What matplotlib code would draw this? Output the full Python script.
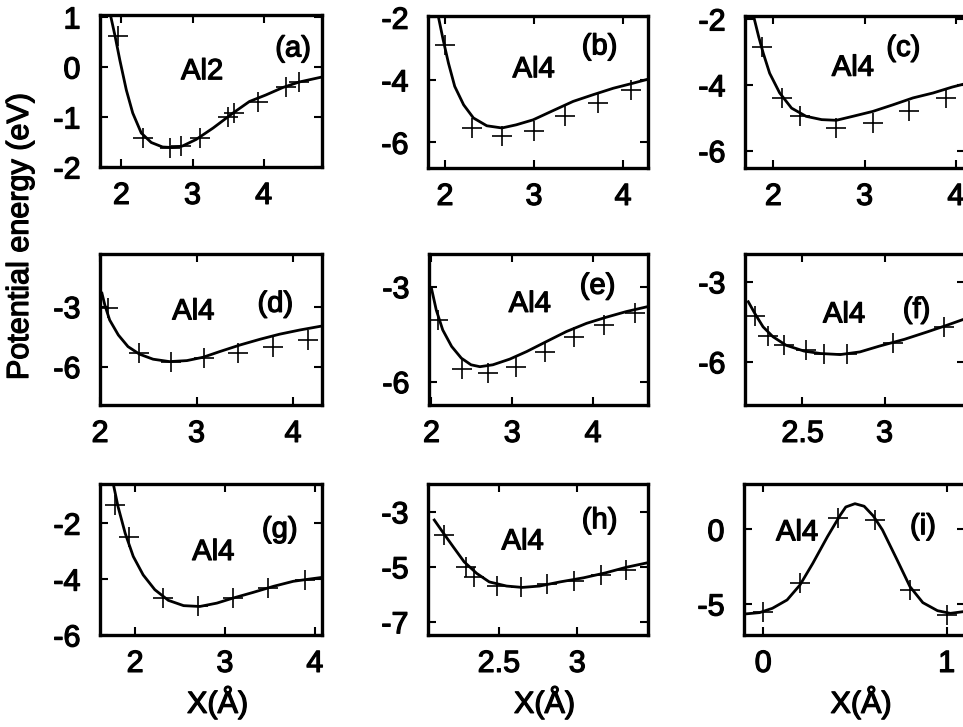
import matplotlib
matplotlib.use('Agg')
from matplotlib import pyplot as plt
from matplotlib import patheffects

plt.rcParams['font.family'] = ['Liberation Sans', 'DejaVu Sans']
plt.rcParams['axes.unicode_minus'] = False

# ---- data ----
# (a) Al2
a_x = [1.95, 2.3, 2.69, 2.84, 3.1, 3.5, 3.59, 3.92, 4.31, 4.5]
a_y = [0.63, -1.41, -1.61, -1.58, -1.41, -0.99, -0.92, -0.69, -0.39, -0.3]
a_fx = [1.85, 1.91, 1.98, 2.07, 2.16, 2.28, 2.42, 2.58, 2.72, 2.86, 3.05, 3.29, 3.57, 3.8, 4.03, 4.27, 4.5, 4.82]
a_fy = [1.02, 0.63, 0.13, -0.46, -0.92, -1.32, -1.51, -1.6, -1.61, -1.58, -1.45, -1.22, -0.92, -0.69, -0.56, -0.41, -0.3, -0.2]

# (b) Al4
b_x = [2.0, 2.3, 2.64, 3.0, 3.35, 3.72, 4.09]
b_y = [-2.88, -5.54, -5.79, -5.65, -5.17, -4.74, -4.32]
b_fx = [1.93, 1.98, 2.04, 2.11, 2.21, 2.32, 2.47, 2.64, 2.8, 2.99, 3.21, 3.44, 3.66, 3.89, 4.11, 4.28]
b_fy = [-2.03, -2.72, -3.47, -4.21, -4.8, -5.22, -5.47, -5.54, -5.44, -5.28, -4.99, -4.69, -4.48, -4.27, -4.11, -3.98]

# (c) Al4
c_x = [1.88, 2.09, 2.29, 2.69, 3.09, 3.49, 3.89]
c_y = [-2.84, -4.4, -4.96, -5.31, -5.16, -4.81, -4.4]
c_fx = [1.79, 1.84, 1.89, 1.96, 2.07, 2.2, 2.36, 2.53, 2.69, 2.87, 3.09, 3.31, 3.53, 3.75, 3.96, 4.1]
c_fy = [-1.98, -2.54, -3.04, -3.65, -4.25, -4.71, -4.96, -5.06, -5.08, -4.96, -4.81, -4.61, -4.4, -4.25, -4.07, -3.97]

# (d) Al4
d_x = [2.08, 2.4, 2.74, 3.08, 3.43, 3.79, 4.16]
d_y = [-3.08, -5.33, -5.75, -5.58, -5.33, -5.0, -4.67]
d_fx = [2.02, 2.05, 2.1, 2.19, 2.29, 2.41, 2.55, 2.72, 2.9, 3.07, 3.24, 3.45, 3.66, 3.86, 4.07, 4.3]
d_fy = [-2.33, -2.92, -3.67, -4.42, -5.0, -5.38, -5.63, -5.75, -5.7, -5.53, -5.25, -4.92, -4.63, -4.38, -4.17, -3.97]

# (e) Al4
e_x = [2.08, 2.38, 2.7, 3.05, 3.4, 3.77, 4.14, 4.52]
e_y = [-4.05, -5.61, -5.74, -5.53, -5.05, -4.58, -4.21, -3.84]
e_fx = [2.0, 2.06, 2.14, 2.25, 2.37, 2.49, 2.6, 2.76, 2.97, 3.18, 3.42, 3.67, 3.92, 4.16, 4.41, 4.68]
e_fy = [-3.05, -3.74, -4.37, -4.89, -5.26, -5.47, -5.53, -5.47, -5.29, -5.05, -4.74, -4.42, -4.16, -3.97, -3.79, -3.63]

# (f) Al4
f_x = [2.21, 2.29, 2.39, 2.52, 2.63, 2.77, 3.05, 3.36]
f_y = [-4.29, -5.03, -5.38, -5.56, -5.69, -5.69, -5.31, -4.71]
f_fx = [2.17, 2.21, 2.26, 2.32, 2.4, 2.51, 2.61, 2.73, 2.85, 2.97, 3.12, 3.26, 3.38, 3.49]
f_fy = [-3.75, -4.19, -4.69, -5.06, -5.38, -5.6, -5.69, -5.73, -5.63, -5.41, -5.16, -4.88, -4.63, -4.39]

# (g) Al4
g_x = [1.78, 1.93, 2.31, 2.7, 3.09, 3.48, 3.89]
g_y = [-1.35, -2.48, -4.68, -4.98, -4.68, -4.32, -4.02]
g_fx = [1.76, 1.81, 1.89, 1.98, 2.09, 2.22, 2.37, 2.54, 2.72, 2.91, 3.09, 3.31, 3.54, 3.76, 3.94, 4.08]
g_fy = [-0.63, -1.4, -2.36, -3.19, -3.85, -4.38, -4.76, -4.95, -4.98, -4.86, -4.68, -4.48, -4.26, -4.08, -4.0, -3.94]

# (h) Al4
h_x = [2.15, 2.29, 2.34, 2.49, 2.64, 2.81, 2.98, 3.15, 3.31]
h_y = [-3.85, -5.02, -5.36, -5.7, -5.73, -5.64, -5.51, -5.3, -5.12]
h_fx = [2.09, 2.15, 2.21, 2.28, 2.36, 2.44, 2.55, 2.65, 2.76, 2.89, 3.04, 3.18, 3.31, 3.45]
h_fy = [-3.3, -3.79, -4.27, -4.82, -5.24, -5.55, -5.7, -5.75, -5.7, -5.55, -5.4, -5.22, -5.02, -4.85]

# (i) Al4
i_x = [0.0, 0.2, 0.41, 0.61, 0.8, 1.0]
i_y = [-5.51, -3.62, 0.74, 0.63, -4.06, -5.74]
i_fx = [-0.1, -0.02, 0.05, 0.13, 0.2, 0.27, 0.35, 0.42, 0.45, 0.5, 0.55, 0.6, 0.65, 0.73, 0.8, 0.87, 0.95, 1.02, 1.1]
i_fy = [-5.67, -5.58, -5.29, -4.73, -3.73, -2.28, -0.49, 0.96, 1.5, 1.72, 1.55, 0.9, -0.04, -2.05, -3.84, -4.91, -5.45, -5.63, -5.5]

names = ['Al2', 'Al4', 'Al4', 'Al4', 'Al4', 'Al4', 'Al4', 'Al4', 'Al4']
tags = ['(a)', '(b)', '(c)', '(d)', '(e)', '(f)', '(g)', '(h)', '(i)']
xticks = [[2, 3, 4], [2, 3, 4], [2, 3, 4], [2, 3, 4], [2, 3, 4], [2.5, 3],
          [2, 3, 4], [2.5, 3], [0, 1]]
yticks = [[-2, -1, 0, 1], [-6, -4, -2], [-6, -4, -2], [-6, -3], [-6, -3], [-6, -3],
          [-6, -4, -2], [-7, -5, -3], [-5, 0]]
xlims = [(1.7, 4.82), (1.81, 4.28), (1.69, 4.1), (2.0, 4.3), (1.97, 4.68), (2.15, 3.49),
         (1.61, 4.08), (2.05, 3.45), (-0.105, 1.1)]
ylims = [(-2, 1.04), (-6.82, -1.96), (-6.53, -1.91), (-7.92, -0.37), (-6.74, -1.97),
         (-7.62, -1.96), (-6, -0.6), (-7.48, -1.99), (-7.08, 3.04)]

pts = [(a_x, a_y), (b_x, b_y), (c_x, c_y), (d_x, d_y), (e_x, e_y), (f_x, f_y),
       (g_x, g_y), (h_x, h_y), (i_x, i_y)]
fits = [(a_fx, a_fy), (b_fx, b_fy), (c_fx, c_fy), (d_fx, d_fy), (e_fx, e_fy), (f_fx, f_fy),
        (g_fx, g_fy), (h_fx, h_fy), (i_fx, i_fy)]

# ---- layout in pixels (left, right, top, bottom) ----
W, H = 963, 727
boxes = [(100, 322, 15, 167), (428, 648, 16, 168), (745, 965, 16, 168),
         (100, 322, 254, 405), (429, 648, 254, 405), (745, 965, 254, 405),
         (100, 322, 484, 635), (428, 648, 484, 635), (744, 965, 484, 635)]
name_pos = [(0.46, 0.63), (0.48, 0.65), (0.49, 0.66), (0.42, 0.62), (0.46, 0.67),
            (0.45, 0.60), (0.51, 0.55), (0.43, 0.62), (0.24, 0.68)]
tag_pos = [(0.87, 0.78), (0.78, 0.80), (0.72, 0.79), (0.79, 0.67), (0.77, 0.79),
           (0.78, 0.63), (0.81, 0.70), (0.78, 0.76), (0.81, 0.72)]

heavy = [patheffects.withStroke(linewidth=0.9, foreground='black')]

fig = plt.figure(figsize=(W / 100, H / 100), dpi=100)

for k in range(9):
    l, r, t, b = boxes[k]
    ax = fig.add_axes([l / W, 1 - b / H, (r - l) / W, (b - t) / H])
    ax.plot(fits[k][0], fits[k][1], '-', color='black', lw=2.0, solid_joinstyle='round')
    ax.plot(pts[k][0], pts[k][1], '+', color='black', ms=14, mew=1.2)
    ax.set_xlim(*xlims[k])
    ax.set_ylim(*ylims[k])
    ax.set_xticks(xticks[k])
    ax.set_xticklabels([('%g' % v) for v in xticks[k]])
    ax.set_yticks(yticks[k])
    ax.tick_params(direction='in', top=True, right=True, length=6, width=1.5,
                   labelsize=22)
    ax.tick_params(axis='y', pad=14)
    ax.tick_params(axis='x', pad=10)
    for s in ax.spines.values():
        s.set_linewidth(2.4)
    for lab in ax.get_xticklabels() + ax.get_yticklabels():
        lab.set_path_effects(heavy)
    ax.text(name_pos[k][0], name_pos[k][1], names[k], transform=ax.transAxes,
            fontsize=21, ha='center', va='center', path_effects=heavy)
    ax.text(tag_pos[k][0], tag_pos[k][1], tags[k], transform=ax.transAxes,
            fontsize=21, ha='center', va='center', path_effects=heavy)
    if k >= 6:
        ax.set_xlabel('X(Å)', fontsize=22, labelpad=7, path_effects=heavy)
        ax.xaxis.set_label_coords(0.53, -0.33)

fig.text(20 / W, 1 - 237 / H, 'Potential energy (eV)', rotation=90,
         fontsize=22, ha='center', va='center', path_effects=heavy)

plt.savefig('out.png', dpi=100)
